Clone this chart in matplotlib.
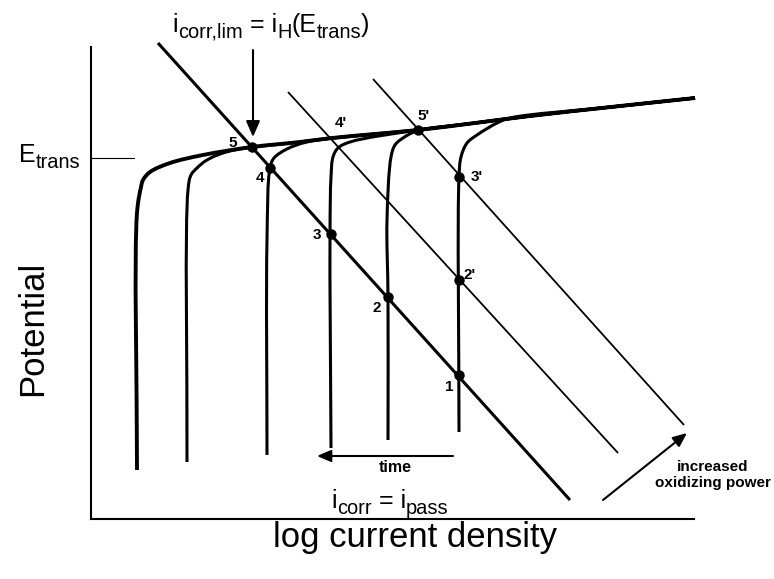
import numpy as np
import matplotlib
matplotlib.use("Agg")
import matplotlib.pyplot as plt
from matplotlib.path import Path
from matplotlib.patches import PathPatch
from matplotlib.transforms import ScaledTranslation

plt.rcParams['font.family'] = ['Liberation Sans', 'DejaVu Sans']

# ---------------- data (arbitrary units: x = log current density, y = potential)
# common transpassive branch (envelope)
envelope_x = [112, 161, 209, 241, 284, 327, 384, 439, 520, 604]
envelope_y = [364, 372, 377, 381, 385, 389, 396, 403, 412, 421]

# passive branches of the six polarization curves (up to where they merge)
curve1_x = [46, 46, 50, 52, 59, 79]
curve1_y = [49, 306, 332, 339, 347, 356]
curve2_x = [96, 97, 100, 106, 116, 139]
curve2_y = [57, 329, 344, 351, 359, 368]
curve3_x = [176, 176, 179, 183, 196, 216]
curve3_y = [64, 279, 351, 361, 370, 377]
curve4_x = [240, 239, 240, 242, 247, 259]
curve4_y = [71, 286, 342, 362, 371, 377]
curve5_x = [297, 297, 296, 300, 304, 312, 326]
curve5_y = [79, 222, 299, 362, 374, 381, 388]
curve6_x = [368, 368, 370, 376, 386, 406, 419]
curve6_y = [87, 342, 362, 376, 384, 396, 401]

# cathodic (oxidant reduction) lines
pass_line_x = [67, 479]
pass_line_y = [476, 19]
oxid1_x = [197, 527]
oxid1_y = [427, 66]
oxid2_x = [282, 593]
oxid2_y = [440, 94]

# marked intersection points
point_labels = ['1', '2', '3', '4', '5', "2'", "3'", "5'"]
point_x = [368, 297, 240, 179, 161, 368, 368, 327]
point_y = [144, 222, 285, 351, 372, 239, 342, 389]
label_4p = "4'"
point_4p = (242, 381)

E_trans = 361

# ---------------- layout / style
label_offsets = [(-10, -12), (-11, -11), (-14, -1), (-10, -10), (-19, 4),
                 (11, 5), (18, 0), (6, 14)]


def smooth_path(xs, ys, alpha=0.5):
    P = np.column_stack([xs, ys]).astype(float)
    P = np.vstack([2 * P[0] - P[1], P, 2 * P[-1] - P[-2]])
    verts = [P[1]]
    codes = [Path.MOVETO]
    for i in range(1, len(P) - 2):
        p0, p1, p2, p3 = P[i - 1], P[i], P[i + 1], P[i + 2]
        d1 = np.linalg.norm(p1 - p0) ** alpha
        d2 = np.linalg.norm(p2 - p1) ** alpha
        d3 = np.linalg.norm(p3 - p2) ** alpha
        b1 = (d1**2 * p2 - d2**2 * p0 + (2 * d1**2 + 3 * d1 * d2 + d2**2) * p1) / (3 * d1 * (d1 + d2))
        b2 = (d3**2 * p1 - d2**2 * p3 + (2 * d3**2 + 3 * d3 * d2 + d2**2) * p2) / (3 * d3 * (d3 + d2))
        verts += [b1, b2, p2]
        codes += [Path.CURVE4] * 3
    return Path(verts, codes)


fig = plt.figure(figsize=(7.74, 5.79), dpi=100)
ax = fig.add_axes([91 / 774, 60 / 579, 603 / 774, 472 / 579])
ax.set_xlim(0, 603)
ax.set_ylim(0, 472)
for s in ['top', 'right']:
    ax.spines[s].set_visible(False)
for s in ['left', 'bottom']:
    ax.spines[s].set_linewidth(1.5)
ax.set_xticks([])
ax.set_yticks([])
renderer = fig.canvas.get_renderer()


def rich_text(x, y, parts, size, ha='left', sub_ratio=0.8, sub_shift=0.24):
    items = []
    for s, kind in parts:
        fs = size * sub_ratio if kind == 'sub' else size
        t = ax.text(x, y, s, fontsize=fs, va='baseline', ha='left', clip_on=False)
        w = t.get_window_extent(renderer).width
        items.append((t, kind, w))
    total = sum(w for _, _, w in items)
    off = {'left': 0.0, 'center': -total / 2, 'right': -total}[ha]
    for t, kind, w in items:
        dy = -sub_shift * size if kind == 'sub' else 0.0
        t.set_transform(ax.transData + ScaledTranslation(off / fig.dpi, dy / 72.0,
                                                         fig.dpi_scale_trans))
        off += w


curves = [(curve1_x, curve1_y), (curve2_x, curve2_y), (curve3_x, curve3_y),
          (curve4_x, curve4_y), (curve5_x, curve5_y), (curve6_x, curve6_y)]
for k, (cx, cy) in enumerate(curves):
    last = cx[-1]
    ex = [x for x in envelope_x if x > last + 25]
    ey = [y for x, y in zip(envelope_x, envelope_y) if x > last + 25]
    xs = list(cx) + ex
    ys = list(cy) + ey
    lw = 2.8 if k == 0 else 2.2
    patch = PathPatch(smooth_path(xs, ys), facecolor='none', edgecolor='black',
                      lw=lw, clip_on=False, joinstyle='round', capstyle='butt')
    ax.add_patch(patch)

ax.plot(pass_line_x, pass_line_y, color='black', lw=2.2, clip_on=False, solid_capstyle='butt')
ax.plot(oxid1_x, oxid1_y, color='black', lw=1.3, clip_on=False, solid_capstyle='butt')
ax.plot(oxid2_x, oxid2_y, color='black', lw=1.3, clip_on=False, solid_capstyle='butt')

ax.plot(point_x, point_y, 'o', color='black', ms=6.5, clip_on=False, zorder=5)
for lab, x, y, (dx, dy) in zip(point_labels, point_x, point_y, label_offsets):
    ax.text(x + dx, y + dy, lab, ha='center', va='center', fontsize=11,
            fontweight='bold')
ax.text(point_4p[0] + 8, point_4p[1] + 15, label_4p, ha='center', va='center',
        fontsize=11, fontweight='bold')

# E_trans marker
ax.plot([1, 43], [E_trans, E_trans], color='black', lw=0.8, clip_on=False)
rich_text(-11, E_trans - 4, [('E', 'base'), ('trans', 'sub')], 18, ha='right')

# annotations
rich_text(180, 487, [('i', 'base'), ('corr,lim', 'sub'), (' = i', 'base'),
                     ('H', 'sub'), ('(E', 'base'), ('trans', 'sub'), (')', 'base')],
          18, ha='center')
ax.annotate('', xy=(162, 382), xytext=(162, 469), annotation_clip=False,
            arrowprops=dict(arrowstyle='-|>,head_length=0.8,head_width=0.35',
                            mutation_scale=12, lw=1.5, color='black',
                            shrinkA=0, shrinkB=0))
rich_text(299, 11, [('i', 'base'), ('corr', 'sub'), (' = i', 'base'), ('pass', 'sub')],
          18, ha='center')

ax.annotate('', xy=(226, 63), xytext=(362, 63), annotation_clip=False,
            arrowprops=dict(arrowstyle='-|>,head_length=0.7,head_width=0.3',
                            mutation_scale=12, lw=1.5, color='black',
                            shrinkA=0, shrinkB=0))
ax.text(304, 51, 'time', ha='center', va='center', fontsize=11.5, fontweight='bold')

ax.annotate('', xy=(596, 86), xytext=(512, 19), annotation_clip=False,
            arrowprops=dict(arrowstyle='-|>,head_length=0.7,head_width=0.3',
                            mutation_scale=12, lw=1.5, color='black',
                            shrinkA=0, shrinkB=0))
ax.text(622, 44, 'increased\noxidizing power', ha='center', va='center',
        fontsize=11, fontweight='bold', linespacing=1.15)

# axis titles
ax.text(-49, 191, 'Potential', rotation=90, rotation_mode='anchor', ha='center',
        va='baseline', fontsize=25)
ax.text(324, -28, 'log current density', ha='center', va='baseline', fontsize=25)

fig.savefig('out.png', dpi=100)
